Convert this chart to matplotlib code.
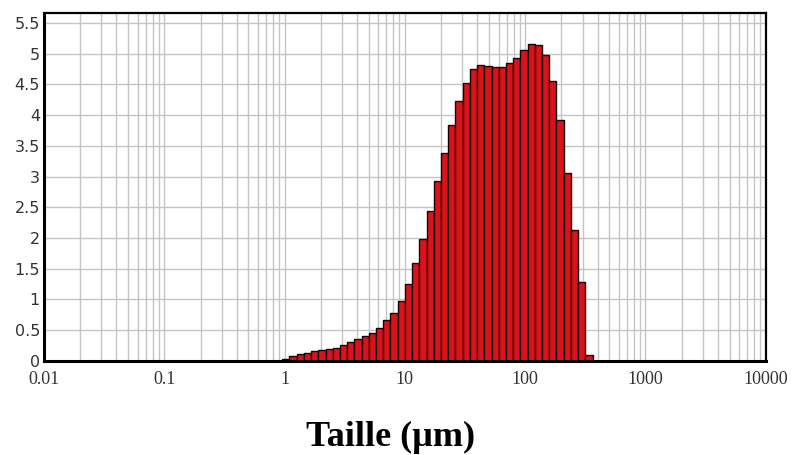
import numpy as np
import matplotlib
matplotlib.use("Agg")
import matplotlib.pyplot as plt
from matplotlib.ticker import FixedLocator, LogLocator, NullFormatter

# size classes: 100 log-spaced classes from 0.01 to 10000 um
class_edges = np.geomspace(0.01, 10000, 101)
first_class = 33

# volume % per class (classes 33..75)
volume = [0.03, 0.08, 0.11, 0.13, 0.16, 0.17, 0.19, 0.21, 0.26, 0.31,
          0.35, 0.41, 0.46, 0.53, 0.66, 0.78, 0.98, 1.25, 1.60, 1.99,
          2.44, 2.92, 3.39, 3.84, 4.23, 4.53, 4.75, 4.82, 4.80, 4.78,
          4.79, 4.85, 4.93, 5.06, 5.16, 5.15, 4.98, 4.55, 3.92, 3.05,
          2.13, 1.28, 0.09]

xticks = [0.01, 0.1, 1, 10, 100, 1000, 10000]
xtick_labels = ["0.01", "0.1", "1", "10", "100", "1000", "10000"]
yticks = [0, 0.5, 1, 1.5, 2, 2.5, 3, 3.5, 4, 4.5, 5, 5.5]
ytick_labels = ["0", "0.5", "1", "1.5", "2", "2.5", "3", "3.5", "4", "4.5", "5", "5.5"]


def main():
    fig = plt.figure(figsize=(8.01, 4.55), dpi=100)
    ax = fig.add_axes([0.055, 0.207, 0.901, 0.764])

    lefts = class_edges[first_class:first_class + len(volume)]
    rights = class_edges[first_class + 1:first_class + 1 + len(volume)]
    ax.bar(lefts, volume, width=rights - lefts, align="edge",
           color="#d8141a", edgecolor="#1a0000", linewidth=1.0, zorder=3)

    ax.set_xscale("log")
    ax.set_xlim(0.01, 10000)
    ax.set_ylim(0, 5.66)

    ax.xaxis.set_major_locator(FixedLocator(xticks))
    ax.xaxis.set_minor_locator(LogLocator(base=10, subs=np.arange(2, 10)))
    ax.xaxis.set_minor_formatter(NullFormatter())
    ax.set_xticklabels(xtick_labels, family="Liberation Serif", fontsize=13,
                       color="#333333")
    ax.set_yticks(yticks)
    ax.set_yticklabels(ytick_labels, family="DejaVu Sans", fontsize=11.5,
                       color="#333333")

    ax.grid(True, which="both", axis="x", color="#c4c4c4", linewidth=1.0, zorder=0)
    ax.grid(True, which="major", axis="y", color="#c4c4c4", linewidth=1.0, zorder=0)
    ax.tick_params(which="both", length=0)
    ax.tick_params(axis="x", pad=7)
    ax.tick_params(axis="y", pad=3)

    for side in ["left", "bottom"]:
        ax.spines[side].set_linewidth(2.2)
    for side in ["top", "right"]:
        ax.spines[side].set_linewidth(1.6)
    for s in ax.spines.values():
        s.set_color("black")
        s.set_zorder(5)

    fig.text(0.487, 0.02, "Taille (\u00b5m)", family="Liberation Serif",
             fontweight="bold", fontsize=26, ha="center", va="baseline")

    fig.savefig("out.png", dpi=100)


if __name__ == "__main__":
    main()
